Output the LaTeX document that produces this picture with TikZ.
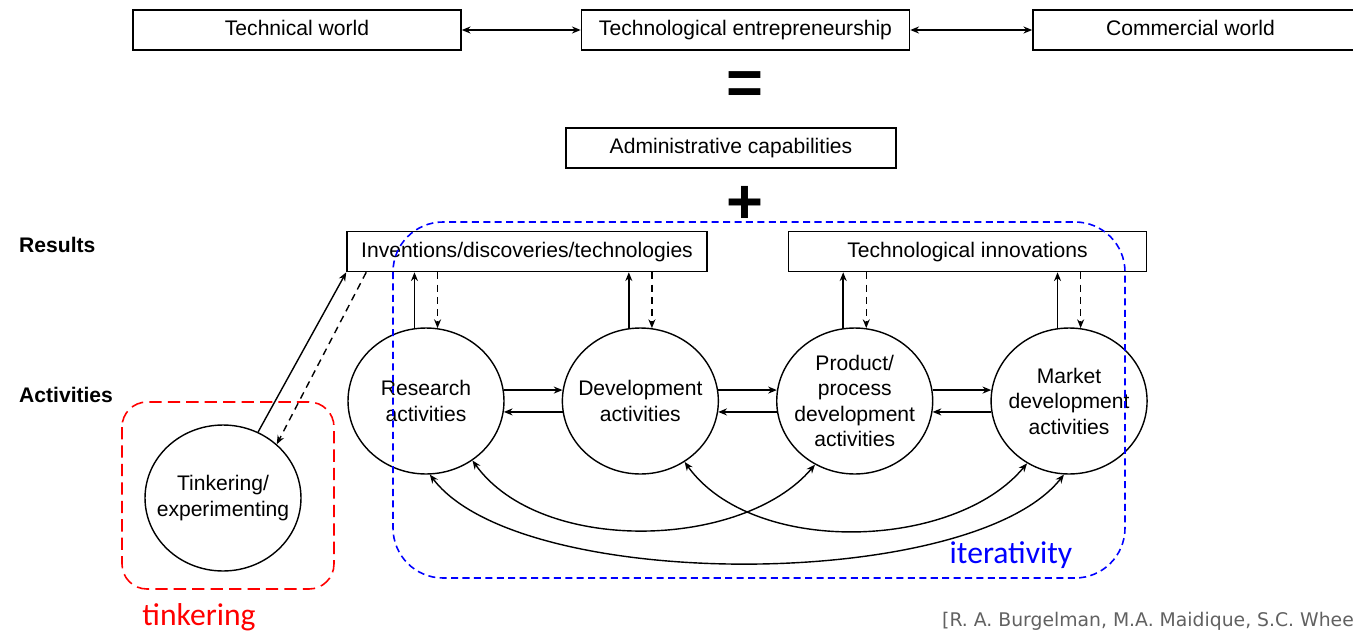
\documentclass[tikz,border=0pt]{standalone}
\usepackage{fontspec}
\setmainfont{Liberation Sans}
\newfontfamily\notefont{Carlito}
\newfontfamily\citefont{DejaVu Sans}
\usetikzlibrary{positioning,shapes.geometric,arrows.meta}

\begin{document}
\begin{tikzpicture}[x=0.02cm, y=-0.02cm, nodes = {align = center},
    box/.style = {draw, line width=0.9pt, minimum height=0.8cm, inner sep=0pt, text height=9pt, text depth=2.5pt, font=\fontsize{12}{14}\selectfont},
    act/.style = {draw, ellipse, line width=0.8pt, minimum width=3.12cm, minimum height=2.92cm, inner sep=-8pt, font=\fontsize{12}{14.5}\selectfont},
    arr/.style = {->, line width=0.8pt, >={Stealth[length=5pt,width=4pt]}},
    darr/.style = {arr, dash pattern=on 4pt off 3pt}]
    \useasboundingbox (0,0) rectangle (1353,636);
    % top row
    \node (tech) [box, minimum width=6.56cm] at (297,30) {Technical world};
    \node (entr) [box, minimum width=6.56cm, right = 2.38cm of tech] {Technological entrepreneurship};
    \node (comm) [box, minimum width=7.4cm, right = 2.44cm of entr] {\hspace*{-1.1cm}Commercial world};
    \path[arr, <->] (tech) edge (entr) (entr) edge (comm);
    \node (eq) at (745,88) {\fontsize{36}{36}\selectfont\bfseries =};
    \node (admin) [box, minimum width=6.6cm] at (731,148) {Administrative capabilities};
    \node (plus) at (745,205) {\fontsize{36}{36}\selectfont\bfseries +};
    % results
    \node (results) [anchor=west, font=\bfseries\fontsize{12}{14}\selectfont] at (13,245) {Results};
    \node (inv) [box, minimum width=7.2cm] at (527,251.5) {Inventions/discoveries/technologies};
    \node (innov) [box, minimum width=7.16cm, right = 1.6cm of inv] {Technological innovations};
    % activities
    \node (activities) [anchor=west, font=\bfseries\fontsize{12}{14}\selectfont] at (13,395) {Activities};
    \node (res) [act] at (426,401) {Research\\activities};
    \node (dev) [act, right = 1.14cm of res] {Development\\activities};
    \node (prod) [act, right = 1.14cm of dev] {Product/\\process\\development\\activities};
    \node (mkt) [act, right = 1.14cm of prod] {Market\\development\\activities};
    \node (tink) [act] at (223,498) {Tinkering/\\experimenting};
    % up and down
    \path[arr] (res.99) edge (res.99 |- inv.south) (dev.99) edge (dev.99 |- inv.south)
        (prod.99) edge (prod.99 |- innov.south) (mkt.99) edge (mkt.99 |- innov.south);
    \path[darr] (res.81 |- inv.south) edge (res.81) (dev.81 |- inv.south) edge (dev.81)
        (prod.81 |- innov.south) edge (prod.81) (mkt.81 |- innov.south) edge (mkt.81);
    \path[arr] (tink.62) edge (inv.south west);
    \path[darr] ([xshift=0.4cm]inv.south west) edge (tink.45);
    % along the chain
    \path[arr] (res.8) edge (dev.172) (dev.188) edge (res.-8)
        (dev.8) edge (prod.172) (prod.188) edge (dev.-8)
        (prod.8) edge (mkt.172) (mkt.188) edge (prod.-8);
    % loops back
    \draw[arr, <->] (res.-87) .. controls +(90,119) and +(-92,117) .. (mkt.-94);
    \draw[arr, <->] (res.-52) .. controls +(68,95) and +(-72,85) .. (prod.-122);
    \draw[arr, <->] (dev.-54) .. controls +(68,95) and +(-72,87) .. (mkt.-124);
    % frames
    \draw[blue, line width=0.9pt, dash pattern=on 4pt off 2.5pt, rounded corners=1cm] (393,222) rectangle (1125,578);
    \draw[red, line width=0.9pt, dash pattern=on 7pt off 3.5pt, rounded corners=0.5cm] (122,402) rectangle (334,589);
    \node (iter) [text=blue, font=\notefont\fontsize{18}{20}\selectfont] at (1011,555) {iterativity};
    \node (tinklabel) [text=red, font=\notefont\fontsize{18}{20}\selectfont] at (199,617) {tinkering};
    \node (cite) [anchor=west, text=black!62, font=\citefont\fontsize{10.7}{12}\selectfont] at (936,621) {[R. A. Burgelman, M.A. Maidique, S.C. Whee};
\end{tikzpicture}
\end{document}
